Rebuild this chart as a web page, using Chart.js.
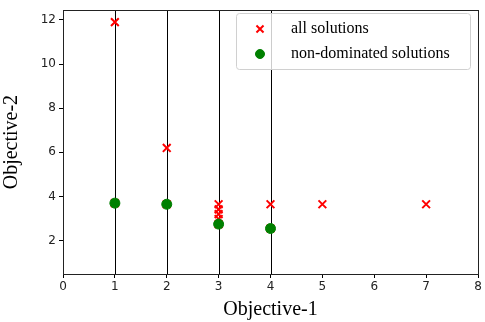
<!DOCTYPE html>
<html>
<head>
<meta charset="utf-8">
<script src="https://cdn.jsdelivr.net/npm/chart.js@4/dist/chart.umd.min.js"></script>
<style>
  html, body { margin: 0; padding: 0; background: #fff; }
  #wrap { width: 485px; height: 322px; }
</style>
</head>
<body>
<div id="wrap"><canvas id="chart" width="485" height="322"></canvas></div>
<script>
// all solutions (red x)
const allX = [1, 1, 2, 2, 3, 3, 3, 3, 3, 4, 4, 5, 7];
const allY = [11.9, 3.7, 6.2, 3.65, 3.65, 3.42, 3.2, 2.98, 2.75, 3.65, 2.55, 3.65, 3.65];

// non-dominated solutions (green dots)
const ndX = [1, 2, 3, 4];
const ndY = [3.7, 3.65, 2.75, 2.55];

// vertical guide lines
const guideX = [1, 2, 3, 4];

// tick labels
const xTicks = [0, 1, 2, 3, 4, 5, 6, 7, 8];
const yTicks = [2, 4, 6, 8, 10, 12];

const toPoints = (xs, ys) => xs.map((x, i) => ({ x: x, y: ys[i] }));

// guide lines + frame + legend box drawn with the chart's scales
const extras = {
    id: 'extras',
    beforeDatasetsDraw(chart) {
        const { ctx, chartArea: a, scales } = chart;
        ctx.save();
        ctx.strokeStyle = '#000';
        ctx.lineWidth = 1;
        guideX.forEach(v => {
            const px = Math.round(scales.x.getPixelForValue(v)) + 0.5;
            ctx.beginPath();
            ctx.moveTo(px, a.top);
            ctx.lineTo(px, a.bottom);
            ctx.stroke();
        });
        ctx.restore();
    },
    afterDraw(chart) {
        const { ctx, chartArea: a } = chart;
        ctx.save();
        // frame
        ctx.strokeStyle = '#222';
        ctx.lineWidth = 1;
        ctx.strokeRect(Math.round(a.left) + 0.5, Math.round(a.top) + 0.5,
                       Math.round(a.right - a.left), Math.round(a.bottom - a.top));

        // legend
        const bx = 236, by = 13, bw = 234, bh = 56;
        ctx.fillStyle = 'rgba(255,255,255,0.8)';
        ctx.strokeStyle = '#d0d0d0';
        ctx.beginPath();
        ctx.roundRect(bx + 0.5, by + 0.5, bw, bh, 3);
        ctx.fill();
        ctx.stroke();

        const items = chart.data.datasets.filter(d => d.label);
        items.forEach((d, i) => {
            const cy = by + 16 + i * 25;
            const cx = bx + 24;
            ctx.save();
            ctx.fillStyle = d.backgroundColor;
            ctx.strokeStyle = d.borderColor;
            ctx.lineWidth = d.borderWidth;
            Chart.helpers.drawPoint(ctx, {
                pointStyle: d.pointStyle,
                radius: d.legendRadius,
                borderWidth: d.borderWidth
            }, cx, cy);
            ctx.restore();
            ctx.fillStyle = '#000';
            ctx.font = '16px "Liberation Serif", serif';
            ctx.textBaseline = 'middle';
            ctx.fillText(d.label, bx + 55, cy);
        });
        ctx.restore();
    }
};

const chart = new Chart(document.getElementById('chart'), {
    type: 'scatter',
    data: {
        datasets: [
            {
                label: 'all solutions',
                data: toPoints(allX, allY),
                pointStyle: 'crossRot',
                pointRadius: 5.5,
                pointHoverRadius: 5.5,
                legendRadius: 5,
                backgroundColor: 'red',
                borderColor: 'red',
                borderWidth: 2,
                order: 1
            },
            {
                label: 'non-dominated solutions',
                data: toPoints(ndX, ndY),
                pointStyle: 'circle',
                pointRadius: 5,
                pointHoverRadius: 5,
                legendRadius: 4.5,
                backgroundColor: 'green',
                borderColor: 'green',
                borderWidth: 1,
                order: 0
            }
        ]
    },
    options: {
        responsive: false,
        animation: false,
        layout: { autoPadding: false, padding: { left: 0, right: 7, top: 5, bottom: 0 } },
        plugins: {
            legend: { display: false },
            tooltip: { enabled: false }
        },
        scales: {
            x: {
                type: 'linear',
                min: 0,
                max: 8,
                afterBuildTicks: s => { s.ticks = xTicks.map(v => ({ value: v })); },
                afterFit: s => { s.height = 48; },
                grid: { drawOnChartArea: false, tickLength: 4, color: '#000' },
                border: { display: false },
                ticks: {
                    color: '#222',
                    padding: 2,
                    maxRotation: 0,
                    font: { family: 'DejaVu Sans', size: 12 }
                },
                title: {
                    display: true,
                    text: 'Objective-1',
                    color: '#000',
                    padding: { top: 0, bottom: 0 },
                    font: { family: '"Liberation Serif", serif', size: 20 }
                }
            },
            y: {
                type: 'linear',
                min: 0.49,
                max: 12.44,
                afterBuildTicks: s => { s.ticks = yTicks.map(v => ({ value: v })); },
                afterFit: s => { s.width = 63; },
                grid: { drawOnChartArea: false, tickLength: 4, color: '#000' },
                border: { display: false },
                ticks: {
                    color: '#222',
                    padding: 3,
                    font: { family: 'DejaVu Sans', size: 12 }
                },
                title: {
                    display: true,
                    text: 'Objective-2',
                    color: '#000',
                    padding: { top: 0, bottom: 6 },
                    font: { family: '"Liberation Serif", serif', size: 20 }
                }
            }
        }
    },
    plugins: [extras]
});

// nudge the plot area so its top edge sits at 5px like the reference
const shift = chart.chartArea.top - 5;
if (Math.abs(shift) > 0.5) {
    chart.options.layout.padding = { left: 0, right: 7, top: 5 - shift, bottom: 0 };
    chart.update();
}
</script>
</body>
</html>
